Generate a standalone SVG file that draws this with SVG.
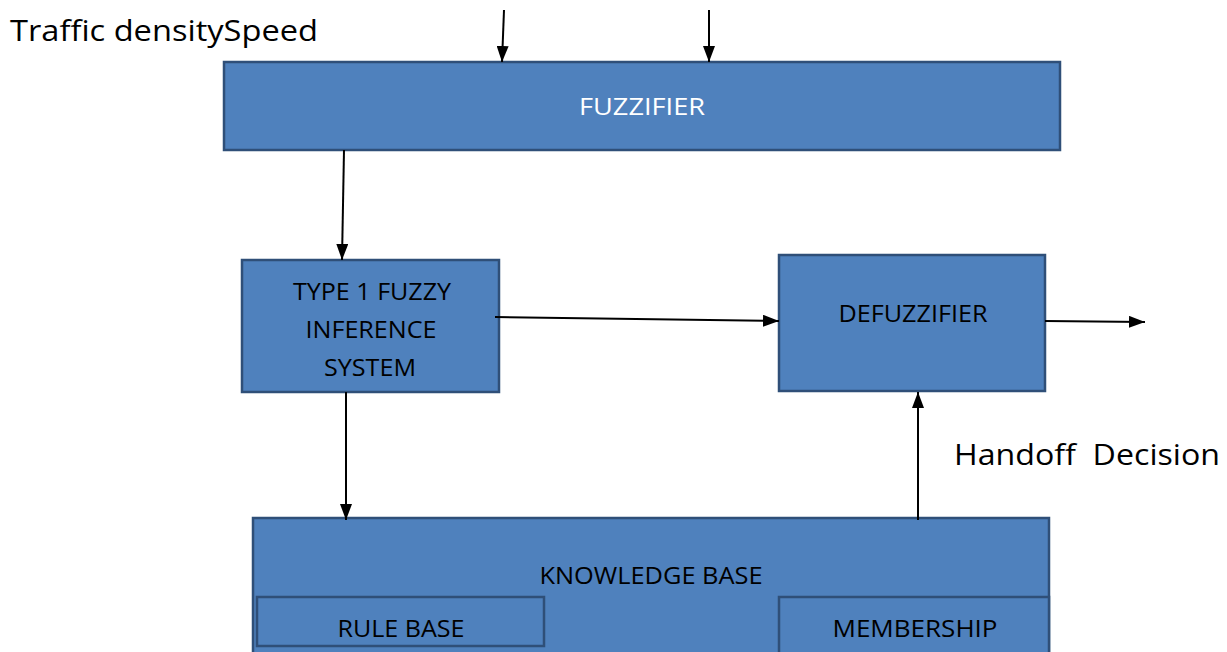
<svg xmlns="http://www.w3.org/2000/svg" width="1227" height="652" viewBox="0 0 1227 652">
<defs>
<marker id="ah" viewBox="0 0 16 12" refX="16" refY="6" markerWidth="16" markerHeight="12" markerUnits="userSpaceOnUse" orient="auto">
<path d="M0,0 L16,6 L0,12 z" fill="#000"/>
</marker>
<style>
.box{fill:#4f81bd;stroke:#2f4f78;stroke-width:2.5}
.t{font-family:"Open Sans","Liberation Sans",sans-serif;font-size:24px;fill:#000;text-anchor:middle}
.w{fill:#fff}
.lbl{font-family:"Open Sans","Liberation Sans",sans-serif;font-size:30px;fill:#000}
.c{stroke:#000;stroke-width:2;fill:none;marker-end:url(#ah)}
</style>
</defs>
<rect width="1227" height="652" fill="#fff"/>
<text class="lbl" x="10" y="41" textLength="308" lengthAdjust="spacingAndGlyphs">Traffic densitySpeed</text>
<text class="lbl" x="954" y="465" textLength="266" lengthAdjust="spacingAndGlyphs" xml:space="preserve">Handoff  Decision</text>
<g id="fuzzifier">
<rect class="box" x="224" y="62" width="836" height="88"/>
<text class="t w" x="642" y="115" textLength="126" lengthAdjust="spacingAndGlyphs">FUZZIFIER</text>
</g>
<g id="type1">
<rect class="box" x="242" y="260" width="257" height="132"/>
<text class="t" x="372" y="300" textLength="158" lengthAdjust="spacingAndGlyphs">TYPE 1 FUZZY</text>
<text class="t" x="371" y="338" textLength="131" lengthAdjust="spacingAndGlyphs">INFERENCE</text>
<text class="t" x="370" y="376" textLength="92" lengthAdjust="spacingAndGlyphs">SYSTEM</text>
</g>
<g id="defuzzifier">
<rect class="box" x="779" y="255" width="266" height="136"/>
<text class="t" x="913" y="322" textLength="149" lengthAdjust="spacingAndGlyphs">DEFUZZIFIER</text>
</g>
<g id="knowledge">
<rect class="box" x="253" y="518" width="796" height="140"/>
<text class="t" x="651" y="584" textLength="223" lengthAdjust="spacingAndGlyphs">KNOWLEDGE BASE</text>
</g>
<g id="rulebase">
<rect class="box" x="257" y="597" width="287" height="49"/>
<text class="t" x="401" y="637" textLength="127" lengthAdjust="spacingAndGlyphs">RULE BASE</text>
</g>
<g id="membership">
<rect class="box" x="779" y="597" width="270" height="60"/>
<text class="t" x="915" y="637" textLength="165" lengthAdjust="spacingAndGlyphs">MEMBERSHIP</text>
</g>
<g id="connectors">
<line class="c" x1="504" y1="10" x2="502" y2="62"/>
<line class="c" x1="709" y1="10" x2="709" y2="62"/>
<line class="c" x1="344" y1="150" x2="342" y2="260"/>
<line class="c" x1="495" y1="317" x2="779" y2="321"/>
<line class="c" x1="1045" y1="321" x2="1145" y2="322"/>
<line class="c" x1="918" y1="520" x2="918" y2="392"/>
<line class="c" x1="346" y1="392" x2="346" y2="520"/>
</g>
</svg>
